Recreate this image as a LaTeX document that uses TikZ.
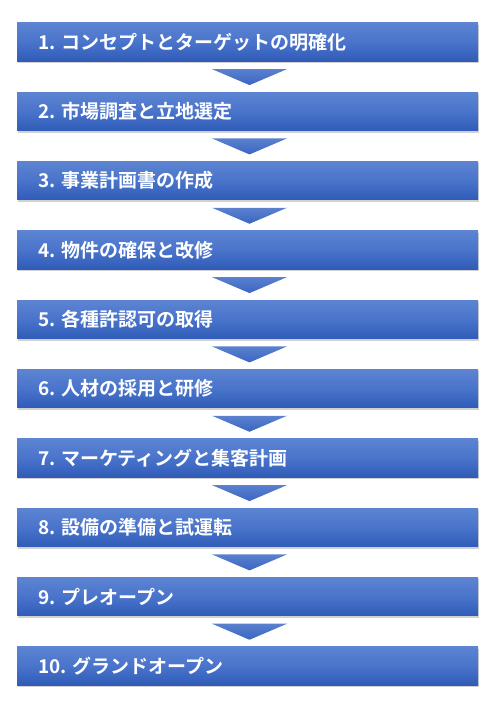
\documentclass[tikz,border=0pt]{standalone}
\usepackage{fontspec}
\newfontfamily\jp{Noto Sans CJK JP}[BoldFont={Noto Sans CJK JP Bold}]
\usetikzlibrary{shadows,calc}
\definecolor{boxtop}{HTML}{5C84D2}
\definecolor{boxmid}{HTML}{4A74CB}
\definecolor{boxbot}{HTML}{2F5CB8}
\definecolor{tritop}{HTML}{5A80CE}
\definecolor{tribot}{HTML}{3A66C2}
\begin{document}
\begin{tikzpicture}[x=1pt,y=1pt,
  stepbox/.style={minimum width=461pt,minimum height=38.5pt,inner sep=0pt,
    top color=boxtop,bottom color=boxbot,middle color=boxmid,
    draw=none,
    drop shadow={shadow xshift=1pt,shadow yshift=-2pt,opacity=0.3,fill=black!60}},
  steptext/.style={font=\jp\bfseries\fontsize{19}{19}\selectfont,text=white,anchor=west,inner sep=0pt},
  downtri/.style={top color=tritop,bottom color=tribot,draw=none}]
\useasboundingbox (0,0) rectangle (500,-706);
\foreach \i/\t in {1/{1. コンセプトとターゲットの明確化},2/{2. 市場調査と立地選定},3/{3. 事業計画書の作成},4/{4. 物件の確保と改修},5/{5. 各種許認可の取得},6/{6. 人材の採用と研修},7/{7. マーケティングと集客計画},8/{8. 設備の準備と試運転},9/{9. プレオープン},10/{10. グランドオープン}}{
  \node[stepbox] (b\i) at (247.5,{-(22.7+19.25+69.33*(\i-1))}) {};
  \node[steptext] (t\i) at ($(b\i.west)+(21,0)$) {\t};
}
\foreach \i in {1,...,9}{
  \path[downtri] ($(b\i.south)+(-35.5,-7.7)$) -- ($(b\i.south)+(39.5,-7.7)$) -- ($(b\i.south)+(2,-23.7)$) -- cycle;
}
\end{tikzpicture}
\end{document}
